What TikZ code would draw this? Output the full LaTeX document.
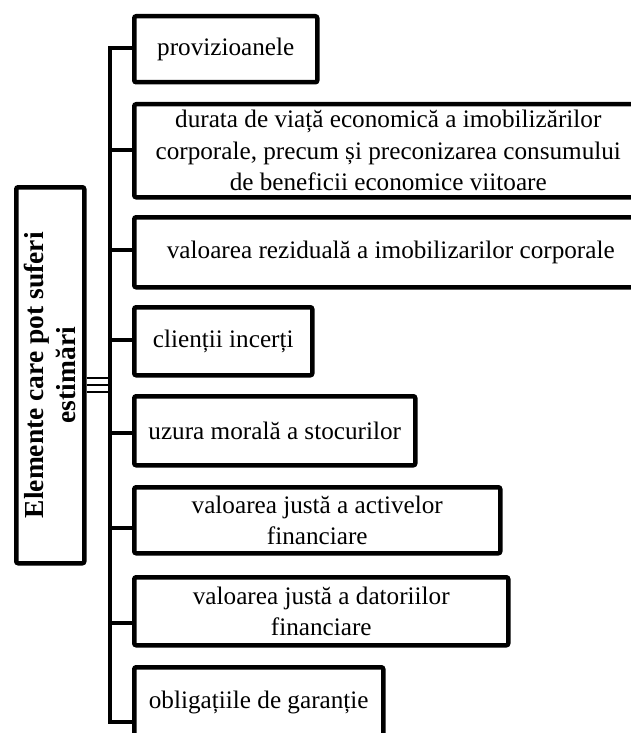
\documentclass[tikz,border=0pt]{standalone}
\usepackage{fontspec}
\setmainfont{Liberation Serif}
\begin{document}
\begin{tikzpicture}[x=1pt, y=-1pt,
  every path/.style={line width=4.5pt, line join=miter},
  leaf/.style={draw, line width=4.5pt, rounded corners=2pt, rectangle,
    anchor=north west, inner sep=2pt, align=center,
    font=\fontsize{25.2}{31.5}\selectfont},
  rootbox/.style={draw, line width=4.5pt, rounded corners=2pt, rectangle,
    anchor=north west, inner sep=0pt},
  link/.style={line width=4.5pt},
  thin link/.style={line width=2pt}]
\useasboundingbox (0,0) rectangle (630,733);

% root box with rotated title
\node[rootbox, minimum width=68pt, minimum height=376pt] (root) at (14,185) {};
\node[rotate=90, align=center, font=\fontsize{27.5}{32}\selectfont\bfseries]
  (title) at (root.center) {Elemente care pot suferi\\estimări};

% leaf boxes
\node[leaf, minimum width=183pt, minimum height=66pt] (b1) at (132,14) {provizioanele};
\node[leaf, minimum width=508pt, minimum height=93pt] (b2) at (132,102)
  {durata de viață economică a imobilizărilor\\corporale, precum și preconizarea consumului\\de beneficii economice viitoare};
\node[leaf, minimum width=513pt, minimum height=70pt] (b3) at (132,215)
  {valoarea reziduală a imobilizarilor corporale};
\node[leaf, minimum width=178pt, minimum height=68pt] (b4) at (132,305) {clienții incerți};
\node[leaf, minimum width=281pt, minimum height=69pt] (b5) at (132,394) {uzura morală a stocurilor};
\node[leaf, minimum width=366pt, minimum height=66pt] (b6) at (132,485)
  {valoarea justă a activelor\\financiare};
\node[leaf, minimum width=374pt, minimum height=68pt] (b7) at (132,575)
  {valoarea justă a datoriilor\\financiare};
\node[leaf, minimum width=249pt, minimum height=70pt] (b8) at (132,665) {obligațiile de garanție};

% trunk junctions
\coordinate (t1) at (110,48);
\coordinate (t2) at (110,150);
\coordinate (t3) at (110,250);
\coordinate (t4) at (110,340);
\coordinate (t5) at (110,433);
\coordinate (t6) at (110,528);
\coordinate (t7) at (110,623);
\coordinate (t8) at (110,722);

% trunk with first and last branch
\draw[link] (t1 -| b1.west) -- (t1) -- (t8) -- (t8 -| b8.west);
% middle branches
\foreach \i in {2,...,7} {
  \draw[link] (t\i) -- (t\i -| b\i.west);
}

% triple link from the root box to the trunk
\foreach \yy in {378,385,392} {
  \draw[thin link] (root.east |- 0,\yy) -- (110,\yy);
}
\end{tikzpicture}
\end{document}
